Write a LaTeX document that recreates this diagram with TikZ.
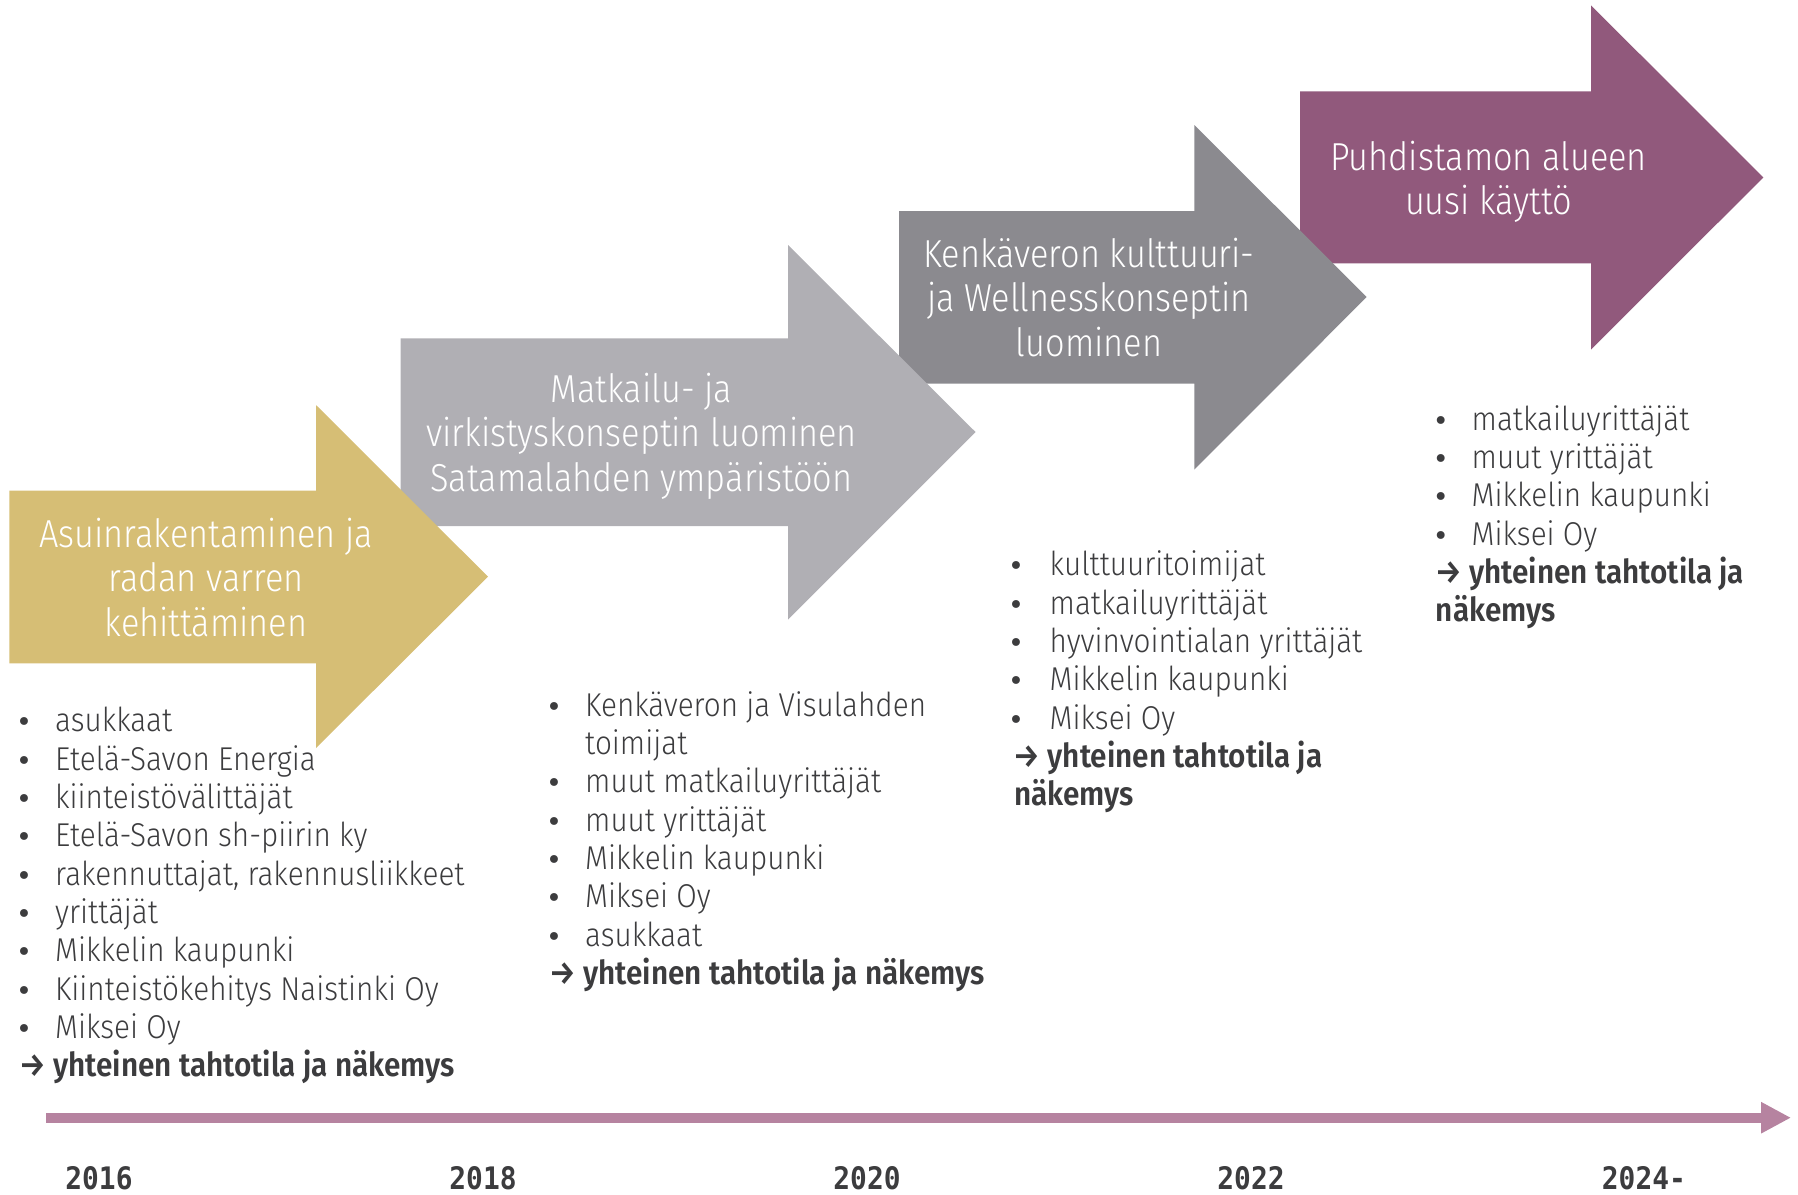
\documentclass[tikz,border=0pt]{standalone}
\usepackage{fontspec}
\setmainfont{Fira Sans}[UprightFont=* Light, BoldFont=* SemiBold, FakeStretch=0.90]
\newfontfamily\titlefont{Fira Sans}[UprightFont=* Light, FakeStretch=0.88]
\newfontfamily\bulletfont{DejaVu Sans}
\newfontfamily\yearfont{DejaVu Sans Mono}[FakeStretch=0.9]
\usetikzlibrary{arrows.meta}
\definecolor{cgold}{HTML}{D6BE75}
\definecolor{cgreyA}{HTML}{B0AFB4}
\definecolor{cgreyB}{HTML}{8B8A8F}
\definecolor{cpurple}{HTML}{91597C}
\definecolor{cline}{HTML}{B683A0}
\definecolor{ctxt}{HTML}{3C3C3E}
\tikzset{
  ttl/.style={text=white, font=\titlefont\fontsize{39}{46}\selectfont, anchor=base, inner sep=0pt},
  itm/.style={text=ctxt, font=\fontsize{33}{38}\selectfont, anchor=base west, inner sep=0pt},
  bul/.style={text=ctxt, font=\bulletfont\fontsize{27}{32}\selectfont, anchor=base, inner sep=0pt},
  res/.style={text=ctxt, font=\fontsize{33}{38}\selectfont\bfseries, anchor=base west, inner sep=0pt},
  yr/.style={text=ctxt, font=\yearfont\bfseries\fontsize{31}{36}\selectfont, anchor=base, inner sep=0pt}
}
\begin{document}
\begin{tikzpicture}[x=1pt,y=-1pt]
\useasboundingbox (0,0) rectangle (1798,1194);
% stage arrows (drawn back to front)
\fill[cpurple] (1300,91.3) -- (1591,91.3) -- (1591,5.3) -- (1763.3,177.5) -- (1591,349.5) -- (1591,263.3) -- (1300,263.3) -- cycle;
\fill[cgreyB] (899,211) -- (1194.3,211) -- (1194.3,125) -- (1366.7,297) -- (1194.3,469.5) -- (1194.3,383.5) -- (899,383.5) -- cycle;
\fill[cgreyA] (400.6,338.3) -- (788,338.3) -- (788,245) -- (975.5,432) -- (788,619.5) -- (788,526) -- (400.6,526) -- cycle;
\fill[cgold] (9.3,490.7) -- (316,490.7) -- (316,405) -- (488,576.7) -- (316,748) -- (316,663.3) -- (9.3,663.3) -- cycle;

% titles
\node[ttl] (t1a) at (206,547.7) {Asuinrakentaminen ja};
\node[ttl] (t1b) at (206,591.7) {radan varren};
\node[ttl] (t1c) at (206,636) {kehittäminen};
\node[ttl] (t2a) at (641.5,402.3) {Matkailu- ja};
\node[ttl] (t2b) at (641.5,446.7) {virkistyskonseptin luominen};
\node[ttl] (t2c) at (641.5,491) {Satamalahden ympäristöön};
\node[ttl] (t3a) at (1089,267.3) {Kenkäveron kulttuuri-};
\node[ttl] (t3b) at (1089,311.7) {ja Wellnesskonseptin};
\node[ttl] (t3c) at (1089,356) {luominen};
\node[ttl] (t4a) at (1488.7,170) {Puhdistamon alueen};
\node[ttl] (t4b) at (1488.7,214.3) {uusi käyttö};

% list 1
\foreach \t [count=\i] in {asukkaat, Etelä-Savon Energia, kiinteistövälittäjät, Etelä-Savon sh-piirin ky, {rakennuttajat, rakennusliikkeet}, yrittäjät, Mikkelin kaupunki, Kiinteistökehitys Naistinki Oy, Miksei Oy}{
  \node[bul] (b1-\i) at (24,{731.7+(\i-1)*38.35}) {•};
  \node[itm] (l1-\i) at (55,{731.7+(\i-1)*38.35}) {\t};
}
\node[res] (r1) at (19,1076.9) {→ yhteinen tahtotila ja näkemys};

% list 2
\node[bul] (b2-1) at (554,716) {•};
\node[itm] (l2-1) at (585,716) {Kenkäveron ja Visulahden};
\node[itm] (l2-1b) at (585,754.35) {toimijat};
\foreach \t [count=\i] in {muut matkailuyrittäjät, muut yrittäjät, Mikkelin kaupunki, Miksei Oy, asukkaat}{
  \node[bul] (b2-\i x) at (554,{792.7+(\i-1)*38.35}) {•};
  \node[itm] (l2-\i x) at (585,{792.7+(\i-1)*38.35}) {\t};
}
\node[res] (r2) at (549,984.5) {→ yhteinen tahtotila ja näkemys};

% list 3
\foreach \t [count=\i] in {kulttuuritoimijat, matkailuyrittäjät, hyvinvointialan yrittäjät, Mikkelin kaupunki, Miksei Oy}{
  \node[bul] (b3-\i) at (1016,{575.7+(\i-1)*38.35}) {•};
  \node[itm] (l3-\i) at (1049.5,{575.7+(\i-1)*38.35}) {\t};
}
\node[res] (r3a) at (1013.5,767.4) {→ yhteinen tahtotila ja};
\node[res] (r3b) at (1014,805.7) {näkemys};

% list 4
\foreach \t [count=\i] in {matkailuyrittäjät, muut yrittäjät, Mikkelin kaupunki, Miksei Oy}{
  \node[bul] (b4-\i) at (1440.7,{430+(\i-1)*38.35}) {•};
  \node[itm] (l4-\i) at (1471.5,{430+(\i-1)*38.35}) {\t};
}
\node[res] (r4a) at (1435.2,583.4) {→ yhteinen tahtotila ja};
\node[res] (r4b) at (1435.7,621.7) {näkemys};

% timeline
\coordinate (tl0) at (46,1117.7);
\coordinate (tl1) at (1791,1117.7);
\draw[cline, line width=10pt, -{Triangle[length=30pt,width=29.4pt]}] (tl0) -- (tl1);

\node[yr] (y16) at (99,1189.5) {2016};
\node[yr] (y18) at (483,1189.5) {2018};
\node[yr] (y20) at (867,1189.5) {2020};
\node[yr] (y22) at (1251,1189.5) {2022};
\node[yr] (y24) at (1635.5,1189.5) {2024\rlap{-}};
\end{tikzpicture}
\end{document}
